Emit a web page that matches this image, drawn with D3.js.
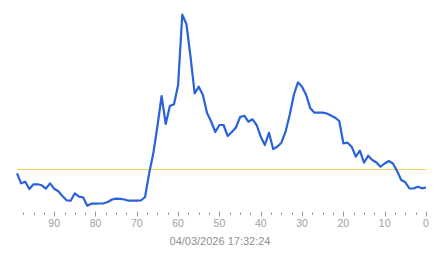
<!DOCTYPE html>
<html>
<head>
<meta charset="utf-8">
<script src="https://cdn.jsdelivr.net/npm/d3@7"></script>
<style>
  html, body { margin: 0; padding: 0; background: #fff; }
  svg { display: block; }
  text { font-family: "Liberation Sans", Arial, sans-serif; }
</style>
</head>
<body>
<svg id="chart" width="443" height="258"></svg>
<script>
// x positions (units before now), from 99 down to 0
const xValues = d3.range(99, -1, -1);
// series values, one per x position (99 ... 0)
const seriesValues = [
  41.7, 31.7, 33.3, 26.0, 30.7, 30.7, 29.7, 26.3, 31.7, 26.3,
  23.7, 19.0, 14.7, 14.3, 21.7, 18.3, 17.7, 9.3, 11.3, 11.3,
  11.5, 11.7, 13.0, 15.5, 16.3, 16.2, 15.5, 14.3, 14.3, 14.3,
  14.5, 18.0, 42.0, 61.7, 89.0, 119.0, 91.0, 109.0, 110.7, 130.0,
  200.3, 191.0, 158.3, 121.7, 128.3, 120.0, 102.0, 93.5, 83.0, 90.0,
  90.0, 79.0, 83.0, 87.5, 98.0, 99.3, 93.3, 95.7, 90.0, 78.3,
  70.0, 82.3, 66.0, 68.3, 72.3, 83.3, 100.0, 120.0, 132.7, 128.3,
  120.0, 106.7, 102.3, 102.3, 102.3, 101.5, 99.5, 97.3, 94.0, 71.7,
  72.3, 68.3, 58.3, 64.3, 52.3, 59.3, 55.0, 52.5, 48.3, 51.5,
  54.0, 51.5, 44.0, 35.0, 32.7, 26.5, 26.5, 28.3, 26.7, 27.5
];
const thresholdValue = [45.7];
const majorTicks = [90, 80, 70, 60, 50, 40, 30, 20, 10, 0];
const minorTicks = d3.range(97.5, -0.1, -2.5);
const dateLabel = ["04/03/2026 17:32:24"];

const svg = d3.select("#chart");
const x = d3.scaleLinear().domain([99, 0]).range([17, 426]);
const y = d3.scaleLinear().domain([0, 200]).range([215, 15]);

const data = xValues.map((v, i) => ({ x: v, y: seriesValues[i] }));

// threshold line
svg.selectAll("line.threshold").data(thresholdValue).enter().append("line")
  .attr("class", "threshold")
  .attr("x1", x(99)).attr("x2", x(0))
  .attr("y1", d => Math.round(y(d)) + 0.5).attr("y2", d => Math.round(y(d)) + 0.5)
  .attr("stroke", "#f0cf5a").attr("stroke-width", 1);

// series line
svg.append("path").datum(data)
  .attr("fill", "none")
  .attr("stroke", "#2962d9")
  .attr("stroke-width", 2.2)
  .attr("stroke-linejoin", "round")
  .attr("d", d3.line().x(d => x(d.x)).y(d => y(d.y)));

// minor ticks
const axisG = svg.append("g");
axisG.selectAll("line.minor").data(minorTicks.filter(t => t % 10 !== 0)).enter().append("line")
  .attr("x1", d => Math.round(x(d)) + 0.5).attr("x2", d => Math.round(x(d)) + 0.5)
  .attr("y1", 212.5).attr("y2", 215)
  .attr("stroke", "#999").attr("stroke-width", 1);
// major ticks
axisG.selectAll("line.major").data(majorTicks).enter().append("line")
  .attr("x1", d => Math.round(x(d)) + 0.5).attr("x2", d => Math.round(x(d)) + 0.5)
  .attr("y1", 211.5).attr("y2", 216.5)
  .attr("stroke", "#999").attr("stroke-width", 1);
axisG.selectAll("text.tick").data(majorTicks).enter().append("text")
  .attr("x", d => x(d)).attr("y", 227)
  .attr("text-anchor", "middle")
  .attr("font-size", "10.5px")
  .attr("fill", "#a0a0a0")
  .text(d => d);

svg.selectAll("text.date").data(dateLabel).enter().append("text")
  .attr("x", 220).attr("y", 245)
  .attr("text-anchor", "middle")
  .attr("font-size", "11px")
  .attr("fill", "#8f8f8f")
  .text(d => d);
</script>
</body>
</html>
